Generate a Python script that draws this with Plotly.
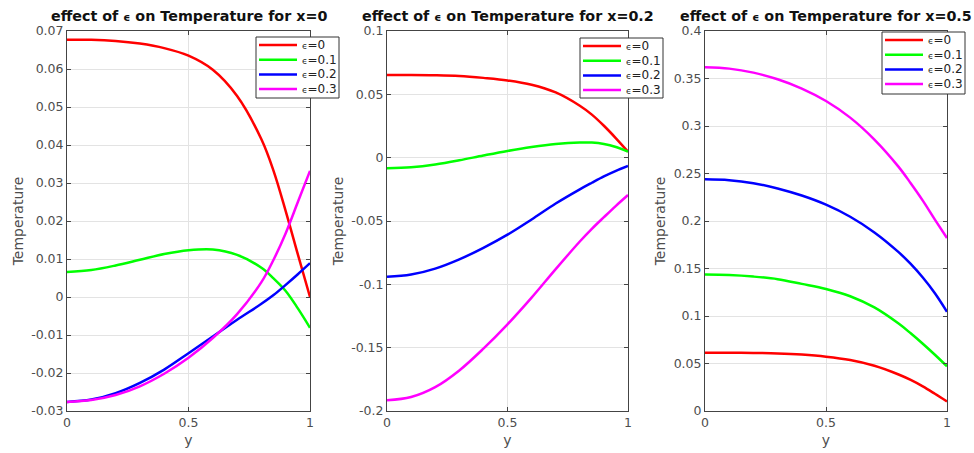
import plotly.graph_objects as go

# ---------------- data ----------------
y_grid = [0, 0.1, 0.2, 0.3, 0.4, 0.5, 0.6, 0.7, 0.8, 0.85, 0.9, 0.95, 1.0]
eps_values = ["0", "0.1", "0.2", "0.3"]
x_values = ["0", "0.2", "0.5"]

# x = 0
p1_eps0 = [0.0677, 0.0677, 0.0674, 0.0667, 0.0655, 0.0635, 0.0598, 0.0529, 0.0415, 0.0332, 0.0226, 0.0112, 0.0]
p1_eps1 = [0.0066, 0.0071, 0.0083, 0.0098, 0.0113, 0.0123, 0.0125, 0.0111, 0.0077, 0.0049, 0.0016, -0.0030, -0.0081]
p1_eps2 = [-0.0276, -0.0270, -0.0253, -0.0226, -0.0191, -0.0148, -0.0104, -0.0060, -0.0018, 0.0005, 0.0032, 0.0060, 0.0089]
p1_eps3 = [-0.0276, -0.0271, -0.0258, -0.0235, -0.0202, -0.0160, -0.0108, -0.0045, 0.0039, 0.0098, 0.0168, 0.0250, 0.0332]

# x = 0.2
p2_eps0 = [0.0653, 0.0653, 0.0651, 0.0645, 0.0630, 0.0610, 0.0576, 0.0515, 0.0410, 0.0340, 0.0252, 0.0153, 0.0047]
p2_eps1 = [-0.0084, -0.0076, -0.0054, -0.0021, 0.0017, 0.0053, 0.0084, 0.0108, 0.0120, 0.0119, 0.0108, 0.0084, 0.0047]
p2_eps2 = [-0.0940, -0.0923, -0.0876, -0.0803, -0.0712, -0.0608, -0.0488, -0.0362, -0.0250, -0.0198, -0.0148, -0.0104, -0.0066]
p2_eps3 = [-0.1916, -0.1890, -0.1812, -0.1680, -0.1508, -0.1316, -0.1105, -0.0880, -0.0662, -0.0562, -0.0470, -0.0380, -0.0295]

# x = 0.5
p3_eps0 = [0.0613, 0.0613, 0.0611, 0.0606, 0.0594, 0.0572, 0.0536, 0.0476, 0.0384, 0.0327, 0.0259, 0.0181, 0.0100]
p3_eps1 = [0.1436, 0.1431, 0.1415, 0.1388, 0.1338, 0.1285, 0.1208, 0.1090, 0.0920, 0.0818, 0.0708, 0.0592, 0.0470]
p3_eps2 = [0.2439, 0.2430, 0.2398, 0.2343, 0.2268, 0.2172, 0.2045, 0.1880, 0.1672, 0.1548, 0.1405, 0.1240, 0.1045]
p3_eps3 = [0.3618, 0.3604, 0.3562, 0.3492, 0.3394, 0.3263, 0.3088, 0.2857, 0.2570, 0.2398, 0.2215, 0.2015, 0.1820]

x_tickvals = [0, 0.5, 1]
x_ticktext = ["0", "0.5", "1"]
p1_tickvals = [0.07, 0.06, 0.05, 0.04, 0.03, 0.02, 0.01, 0, -0.01, -0.02, -0.03]
p1_ticktext = ["0.07", "0.06", "0.05", "0.04", "0.03", "0.02", "0.01", "0", "-0.01", "-0.02", "-0.03"]
p2_tickvals = [0.1, 0.05, 0, -0.05, -0.1, -0.15, -0.2]
p2_ticktext = ["0.1", "0.05", "0", "-0.05", "-0.1", "-0.15", "-0.2"]
p3_tickvals = [0.4, 0.35, 0.3, 0.25, 0.2, 0.15, 0.1, 0.05, 0]
p3_ticktext = ["0.4", "0.35", "0.3", "0.25", "0.2", "0.15", "0.1", "0.05", "0"]

# ---------------- figure ----------------
W, H = 974, 453
colors = ["#ff0000", "#00ff00", "#0000ff", "#ff00ff"]
panels = [
    ([p1_eps0, p1_eps1, p1_eps2, p1_eps3], p1_tickvals, p1_ticktext, [-0.03, 0.07], (67, 310)),
    ([p2_eps0, p2_eps1, p2_eps2, p2_eps3], p2_tickvals, p2_ticktext, [-0.2, 0.1], (387, 628)),
    ([p3_eps0, p3_eps1, p3_eps2, p3_eps3], p3_tickvals, p3_ticktext, [0, 0.4], (705, 947)),
]
# legend boxes in pixels: (left, top, right, bottom)
legend_box = [(256, 37, 339, 98), (580, 38, 663, 98), (882, 32, 965, 94)]
top_px, bot_px = 31, 411
ydom = [1 - bot_px / H, 1 - top_px / H]

font_fam = "DejaVu Sans"
axis_col = "#444444"
text_col = "#4d4d4d"
grid_col = "#e3e3e3"


def px(x):
    return x / W


def py(y):
    return 1 - y / H


fig = go.Figure()
layout = dict(
    width=W, height=H,
    margin=dict(l=0, r=0, t=0, b=0),
    paper_bgcolor="white", plot_bgcolor="white",
    font=dict(family=font_fam, color=text_col, size=12),
    showlegend=False,
    annotations=[], shapes=[],
)

eps_small = "<span style='font-size:9px'>ϵ</span>"

for i, (series, tv, tt, yr, (x0, x1)) in enumerate(panels):
    k = "" if i == 0 else str(i + 1)
    for j, vals in enumerate(series):
        fig.add_trace(go.Scatter(
            x=y_grid, y=vals, mode="lines", name="ϵ=" + eps_values[j],
            line=dict(color=colors[j], width=2.5, shape="spline", smoothing=1.0),
            xaxis="x" + k, yaxis="y" + k,
        ))
    common = dict(showline=True, linecolor=axis_col, linewidth=1, mirror="ticks",
                  ticks="inside", ticklen=4, tickcolor=axis_col, automargin=False,
                  showgrid=True, gridcolor=grid_col, gridwidth=1, zeroline=False,
                  tickfont=dict(family=font_fam, size=12.5, color=text_col))
    layout["xaxis" + k] = dict(domain=[px(x0), px(x1)], range=[0, 1],
                               tickvals=x_tickvals, ticktext=x_ticktext,
                               anchor="y" + k,
                               title=dict(text="y", font=dict(size=14, color=text_col), standoff=6),
                               **common)
    layout["yaxis" + k] = dict(domain=ydom, range=yr, tickvals=tv, ticktext=tt,
                               anchor="x" + k,
                               title=dict(text="Temperature", font=dict(size=14, color=text_col), standoff=4),
                               **common)
    # title
    layout["annotations"].append(dict(
        text=f"<b>effect of <span style='font-size:11px'>ϵ</span> on Temperature for x={x_values[i]}</b>",
        x=px((x0 + x1) / 2), y=py(16.5),
        xref="paper", yref="paper", showarrow=False, xanchor="center", yanchor="middle",
        font=dict(family=font_fam, size=14.3, color="#111111")))
    # legend (box, line samples, labels)
    lx0, ly0, lx1, ly1 = legend_box[i]
    layout["shapes"].append(dict(type="rect", xref="paper", yref="paper",
                                 x0=px(lx0), x1=px(lx1), y0=py(ly1), y1=py(ly0),
                                 line=dict(color="#333333", width=1), fillcolor="white", layer="above"))
    for j in range(4):
        yy = ly0 + 8 + j * 14.7
        layout["shapes"].append(dict(type="line", xref="paper", yref="paper",
                                     x0=px(lx0 + 3), x1=px(lx0 + 41), y0=py(yy), y1=py(yy),
                                     line=dict(color=colors[j], width=2.5), layer="above"))
        layout["annotations"].append(dict(
            text=eps_small + "=" + eps_values[j], x=px(lx0 + 44), y=py(yy),
            xref="paper", yref="paper", showarrow=False, xanchor="left", yanchor="middle",
            font=dict(family=font_fam, size=12, color="#222222")))

fig.update_layout(**layout)
fig.write_html("out.html")
